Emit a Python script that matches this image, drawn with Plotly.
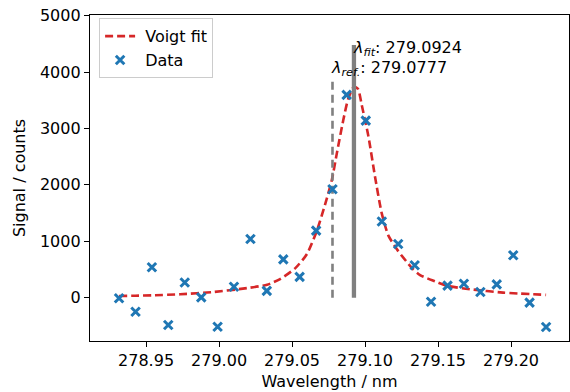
import plotly.graph_objects as go

# Measured data (wavelength in nm, signal in counts)
data_wl = [278.9315, 278.9428, 278.9540, 278.9652, 278.9765, 278.9878, 278.9990,
           279.0102, 279.0215, 279.0327, 279.0440, 279.0552, 279.0665, 279.0777,
           279.0874, 279.1005, 279.1115, 279.1227, 279.1340, 279.1452, 279.1565,
           279.1677, 279.1790, 279.1902, 279.2015, 279.2127, 279.2240]
data_sig = [-10, -250, 540, -485, 270, 5, -515,
            195, 1040, 120, 680, 370, 1190, 1922,
            3595, 3140, 1350, 952, 574, -71, 213,
            248, 101, 237, 752, -88, -519]

# Voigt fit curve
fit_wl = [278.9315, 278.9425, 278.9541, 278.9733, 278.9959, 279.0192, 279.0329,
          279.0418, 279.0521, 279.0601, 279.0669, 279.0726, 279.0772, 279.0806,
          279.0851, 279.0884, 279.0924, 279.0952, 279.0977, 279.1023, 279.1068,
          279.1114, 279.1160, 279.1226, 279.1320, 279.1377, 279.1479, 279.1562,
          279.1719, 279.1945, 279.2240]
fit_sig = [30, 35, 42, 60, 100, 170, 230,
           330, 520, 770, 1180, 1650, 2080, 2550,
           3150, 3520, 3740, 3700, 3420, 2860, 2150,
           1500, 1100, 830, 530, 400, 290, 210,
           150, 90, 50]

lam_ref = 279.0777
lam_fit = 279.0924
ref_line_y = [0, 3900]
fit_line_y = [0, 4480]

x_ticks = [278.95, 279.00, 279.05, 279.10, 279.15, 279.20]
y_ticks = [0, 1000, 2000, 3000, 4000, 5000]

FONT = "DejaVu Sans"
fig = go.Figure()

fig.add_trace(go.Scatter(
    x=fit_wl, y=fit_sig, mode="lines", name=" Voigt fit",
    line=dict(color="#d62728", width=2.6, dash="8px,4px", shape="spline", smoothing=0.6),
))
fig.add_trace(go.Scatter(
    x=[lam_ref, lam_ref], y=ref_line_y, mode="lines", showlegend=False,
    line=dict(color="#808080", width=2.6, dash="8px,5px"), hoverinfo="skip",
))
fig.add_trace(go.Scatter(
    x=[lam_fit, lam_fit], y=fit_line_y, mode="lines", showlegend=False,
    line=dict(color="#808080", width=4.3), hoverinfo="skip",
))
fig.add_trace(go.Scatter(
    x=data_wl, y=data_sig, mode="markers", name=" Data",
    marker=dict(symbol="x-thin", size=8.5, color="#1f77b4",
                line=dict(color="#1f77b4", width=3)),
))

fig.add_annotation(
    x=lam_fit, y=4420, xref="x", yref="y", xanchor="left", yanchor="middle",
    text="<i>λ</i><sub><i>fit</i></sub>: 279.0924", showarrow=False,
    font=dict(family=FONT, size=16, color="black"), xshift=-3,
)
fig.add_annotation(
    x=lam_ref, y=4060, xref="x", yref="y", xanchor="left", yanchor="middle",
    text="<i>λ</i><sub><i>ref.</i></sub>: 279.0777", showarrow=False,
    font=dict(family=FONT, size=16, color="black"), xshift=-3,
)

axis_common = dict(
    showline=True, linecolor="black", linewidth=1.3, mirror=True,
    ticks="outside", ticklen=5, tickwidth=1.2, tickcolor="black",
    showgrid=False, zeroline=False,
    tickfont=dict(family=FONT, size=16, color="black"),
)

fig.update_layout(
    width=570, height=392,
    margin=dict(l=90, r=1, t=15, b=51),
    plot_bgcolor="white", paper_bgcolor="white",
    font=dict(family=FONT, size=16, color="black"),
    showlegend=True,
    legend=dict(
        x=0.019, y=0.99, xanchor="left", yanchor="top",
        bgcolor="rgba(255,255,255,0.8)", bordercolor="#cccccc", borderwidth=1,
        font=dict(family=FONT, size=16), tracegroupgap=0,
    ),
    xaxis=dict(
        range=[278.9116, 279.2397],
        tickvals=x_ticks, ticktext=[f"{v:.2f}" for v in x_ticks],
        title=dict(text="Wavelength / nm", font=dict(family=FONT, size=16), standoff=6),
        **axis_common,
    ),
    yaxis=dict(
        range=[-768, 5012],
        tickvals=y_ticks, ticktext=[str(v) for v in y_ticks],
        title=dict(text="Signal / counts", font=dict(family=FONT, size=16), standoff=10),
        **axis_common,
    ),
)

fig.write_html("out.html")
